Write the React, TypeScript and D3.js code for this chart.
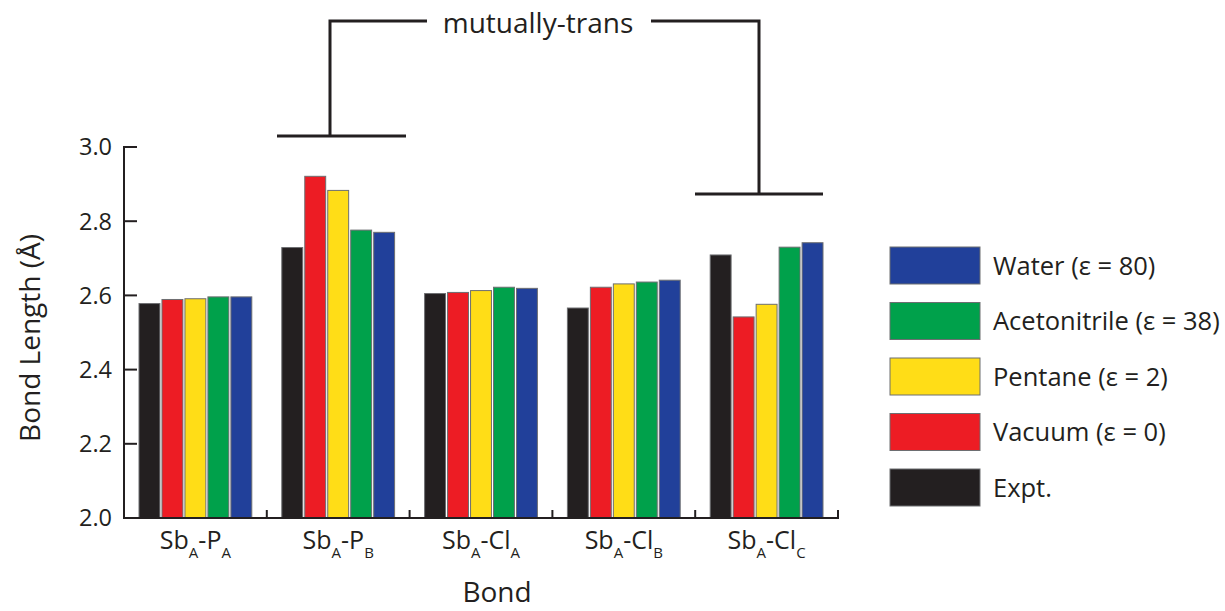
import React from 'react'
import * as d3 from 'd3'

// bond labels: "_X" means subscript X
const categories = ['Sb_A-P_A', 'Sb_A-P_B', 'Sb_A-Cl_A', 'Sb_A-Cl_B', 'Sb_A-Cl_C']

const expt = [2.578, 2.729, 2.605, 2.566, 2.709]
const vacuum = [2.589, 2.921, 2.608, 2.622, 2.542]
const pentane = [2.591, 2.883, 2.613, 2.631, 2.576]
const acetonitrile = [2.596, 2.776, 2.622, 2.636, 2.730]
const water = [2.596, 2.770, 2.619, 2.641, 2.742]

const seriesNames = ['Expt.', 'Vacuum (ε = 0)', 'Pentane (ε = 2)', 'Acetonitrile (ε = 38)', 'Water (ε = 80)']
const seriesValues = [expt, vacuum, pentane, acetonitrile, water]
const seriesColors = ['#231f20', '#ed1c24', '#ffdd17', '#00a14b', '#21409a']

const yTicks = [2.0, 2.2, 2.4, 2.6, 2.8, 3.0]

const FONT = '"Open Sans", sans-serif'
const INK = '#231f20'

const splitLabel = (s: string) => {
  const parts: { t: string; sub: boolean }[] = []
  let i = 0
  let buf = ''
  while (i < s.length) {
    if (s[i] === '_') {
      if (buf) parts.push({ t: buf, sub: false })
      buf = ''
      parts.push({ t: s[i + 1], sub: true })
      i += 2
    } else {
      buf += s[i]
      i++
    }
  }
  if (buf) parts.push({ t: buf, sub: false })
  return parts
}

const App = () => {
  const w = 1225
  const h = 611
  const left = 124
  const right = 838
  const top = 147
  const bottom = 518

  const x0 = d3.scaleBand<string>().domain(categories).range([left, right]).padding(0)
  const x1 = d3
    .scaleBand<number>()
    .domain(d3.range(seriesValues.length))
    .range([15, x0.bandwidth() - 15])
    .paddingInner(0.09)
  const y = d3.scaleLinear().domain([2, 3]).range([bottom, top])

  const boundaries = categories.map((c) => (x0(c) as number) + x0.bandwidth())

  const legendOrder = [4, 3, 2, 1, 0]
  const legendTop = 247
  const legendStep = 55.5

  return (
    <svg
      width={w}
      height={h}
      style={{ position: 'absolute', left: 0, top: 0, background: '#fff' }}
      fontFamily={FONT}
    >
      {/* bars */}
      {categories.map((c, ci) => (
        <g key={c} transform={`translate(${x0(c)},0)`}>
          {seriesValues.map((vals, si) => (
            <rect
              key={si}
              x={x1(si)}
              y={y(vals[ci])}
              width={x1.bandwidth()}
              height={bottom - y(vals[ci])}
              fill={seriesColors[si]}
              stroke="#6d6e71"
              strokeWidth={1}
            />
          ))}
        </g>
      ))}

      {/* y axis */}
      <line x1={left} x2={left} y1={top - 1} y2={bottom + 1} stroke={INK} strokeWidth={2} />
      {yTicks.map((t) => (
        <g key={t}>
          <line x1={left} x2={left + 13} y1={y(t)} y2={y(t)} stroke={INK} strokeWidth={2} />
          <text x={112} y={y(t)} dy="0.36em" textAnchor="end" fontSize={23.5} fill={INK}>
            {t.toFixed(1)}
          </text>
        </g>
      ))}

      {/* x axis */}
      <line x1={left - 1} x2={right + 1} y1={bottom} y2={bottom} stroke={INK} strokeWidth={2} />
      {boundaries.map((b, i) => (
        <line key={i} x1={b} x2={b} y1={bottom} y2={bottom - 8} stroke={INK} strokeWidth={2} />
      ))}
      {categories.map((c) => (
        <text
          key={c}
          x={(x0(c) as number) + x0.bandwidth() / 2}
          y={549}
          textAnchor="middle"
          fontSize={25}
          fill={INK}
        >
          {splitLabel(c).map((p, i) =>
            p.sub ? (
              <tspan key={i} fontSize={15} dy={9}>
                {p.t}
              </tspan>
            ) : (
              <tspan key={i} dy={i === 0 ? 0 : -9}>
                {p.t}
              </tspan>
            )
          )}
        </text>
      ))}

      {/* axis titles */}
      <text x={497} y={602} textAnchor="middle" fontSize={28} fill={INK}>
        Bond
      </text>
      <text
        transform={`translate(40,338) rotate(-90)`}
        textAnchor="middle"
        fontSize={28}
        fill={INK}
      >
        Bond Length (Å)
      </text>

      {/* mutually-trans bracket */}
      <g stroke={INK} strokeWidth={3} fill="none">
        <polyline points="427,21 330,21 330,136" />
        <line x1={277} x2={406} y1={136} y2={136} />
        <polyline points="651,21 759,21 759,194" />
        <line x1={695} x2={823} y1={194} y2={194} />
      </g>
      <text x={538} y={33} textAnchor="middle" fontSize={28} fill={INK}>
        mutually-trans
      </text>

      {/* legend */}
      {legendOrder.map((si, i) => (
        <g key={si} transform={`translate(890,${legendTop + i * legendStep})`}>
          <rect width={90} height={37} fill={seriesColors[si]} stroke="#6d6e71" strokeWidth={1} />
          <text x={103} y={18.5} dy="0.36em" fontSize={25.5} fill={INK}>
            {seriesNames[si]}
          </text>
        </g>
      ))}
    </svg>
  )
}

export default App
